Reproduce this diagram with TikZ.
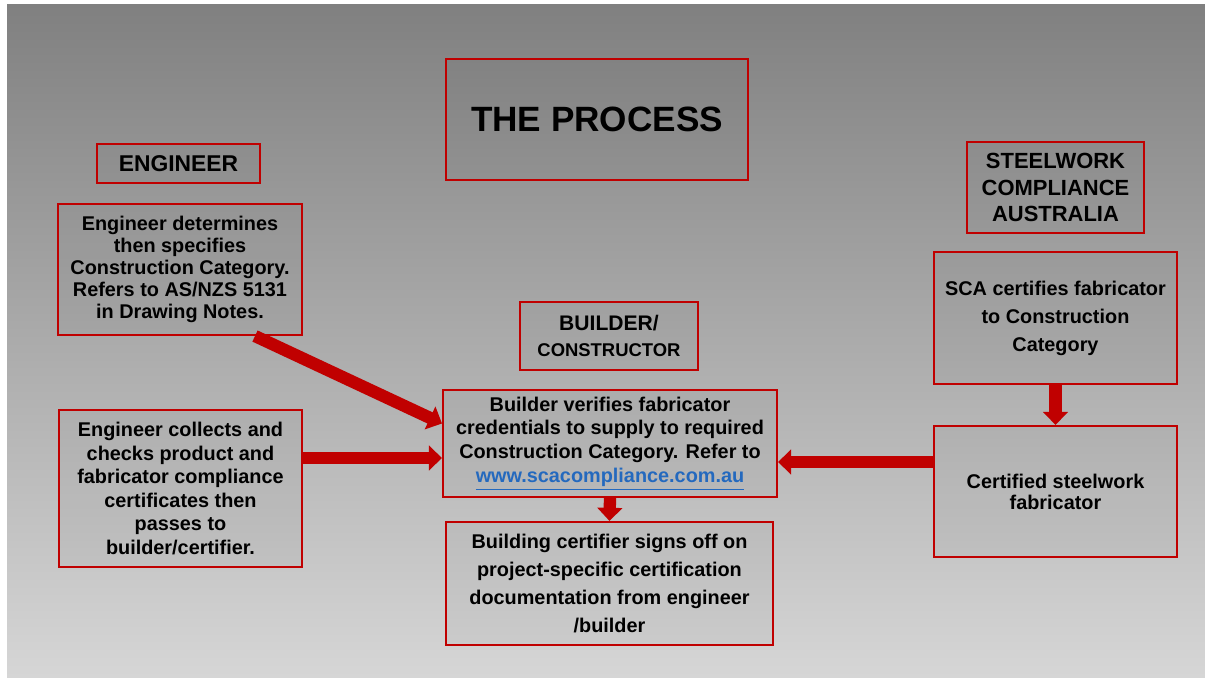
\documentclass[tikz,border=0pt]{standalone}
\usepackage{fontspec}
\setmainfont{Liberation Sans}
\usetikzlibrary{arrows.meta, calc}

\definecolor{boxred}{RGB}{192,0,0}
\definecolor{linkblue}{RGB}{36,105,190}
\definecolor{bgtop}{RGB}{128,128,128}
\definecolor{bgbottom}{RGB}{214,214,214}

\begin{document}
\begin{tikzpicture}[x=0.02cm, y=-0.02cm,
    box/.style={draw=boxred, line width=1.2pt, fill=black, fill opacity=0.03,
      text opacity=1, align=center, inner sep=0pt,
      font=\bfseries\fontsize{11.3}{12.5}\selectfont},
    flow/.style={draw=boxred, line width=7pt,
      -{Triangle[length=7.5pt, width=14pt]}}]
  \useasboundingbox (0,0) rectangle (1205,677);
  \fill[white] (0,0) rectangle (1205,677);
  \shade[top color=bgtop, bottom color=bgbottom] (7,4) rectangle (1205,677);

  \node (process) [box, minimum width=6.04cm, minimum height=2.42cm,
    font=\bfseries\fontsize{20}{24}\selectfont] at (597,119.5) {THE PROCESS};
  \node (engineer) [box, minimum width=3.26cm, minimum height=0.78cm,
    font=\bfseries\fontsize{13}{15}\selectfont] at (178.5,163.5) {ENGINEER};
  \node (determines) [box, minimum width=4.88cm, minimum height=2.62cm] at (180,269.5)
    {Engineer determines\\then specifies\\Construction Category.\\Refers to AS/NZS 5131\\in Drawing Notes.};
  \node (collects) [box, minimum width=4.86cm, minimum height=3.14cm,
    font=\bfseries\fontsize{11.3}{13.4}\selectfont] at (180.5,488.5)
    {Engineer collects and\\checks product and\\fabricator compliance\\certificates then\\passes to\\builder/certifier.};

  \node (builder) [box, minimum width=3.56cm, minimum height=1.36cm,
    font=\bfseries\fontsize{12}{14}\selectfont] at (609,336)
    {BUILDER/\\[1pt]{\fontsize{10.5}{12}\selectfont CONSTRUCTOR}};
  \node (verifies) [box, minimum width=6.68cm, minimum height=2.14cm,
    font=\bfseries\fontsize{11.3}{13.6}\selectfont] at (610,443.5)
    {Builder verifies fabricator\\credentials to supply to required\\Construction Category. Refer to\\
     \textcolor{linkblue}{\underline{www.scacompliance.com.au}}};
  \node (certifier) [box, minimum width=6.54cm, minimum height=2.46cm,
    font=\bfseries\fontsize{11.3}{15.9}\selectfont] at (609.5,583.5)
    {Building certifier signs off on\\project-specific certification\\documentation from engineer\\/builder};

  \node (sca) [box, minimum width=3.54cm, minimum height=1.82cm,
    font=\bfseries\fontsize{12.5}{15}\selectfont] at (1055.5,187.5)
    {STEELWORK\\COMPLIANCE\\AUSTRALIA};
  \node (scacert) [box, minimum width=4.86cm, minimum height=2.64cm,
    font=\bfseries\fontsize{11.3}{15.9}\selectfont] at (1055.5,318)
    {SCA certifies fabricator\\to Construction\\Category};
  \node (fabricator) [box, minimum width=4.86cm, minimum height=2.62cm,
    font=\bfseries\fontsize{11.3}{12}\selectfont] at (1055.5,491.5)
    {Certified steelwork\\fabricator};

  \path ($(determines.south)+(75,0)$) edge[flow] ($(verifies.west)+(0,-20)$)
        (collects.east |- 0,458) edge[flow] (verifies.west |- 0,458)
        (fabricator.west |- 0,462) edge[flow] (verifies.east |- 0,462)
        (verifies.south) edge[flow] (certifier.north)
        (scacert.south) edge[flow] (fabricator.north);
\end{tikzpicture}
\end{document}
